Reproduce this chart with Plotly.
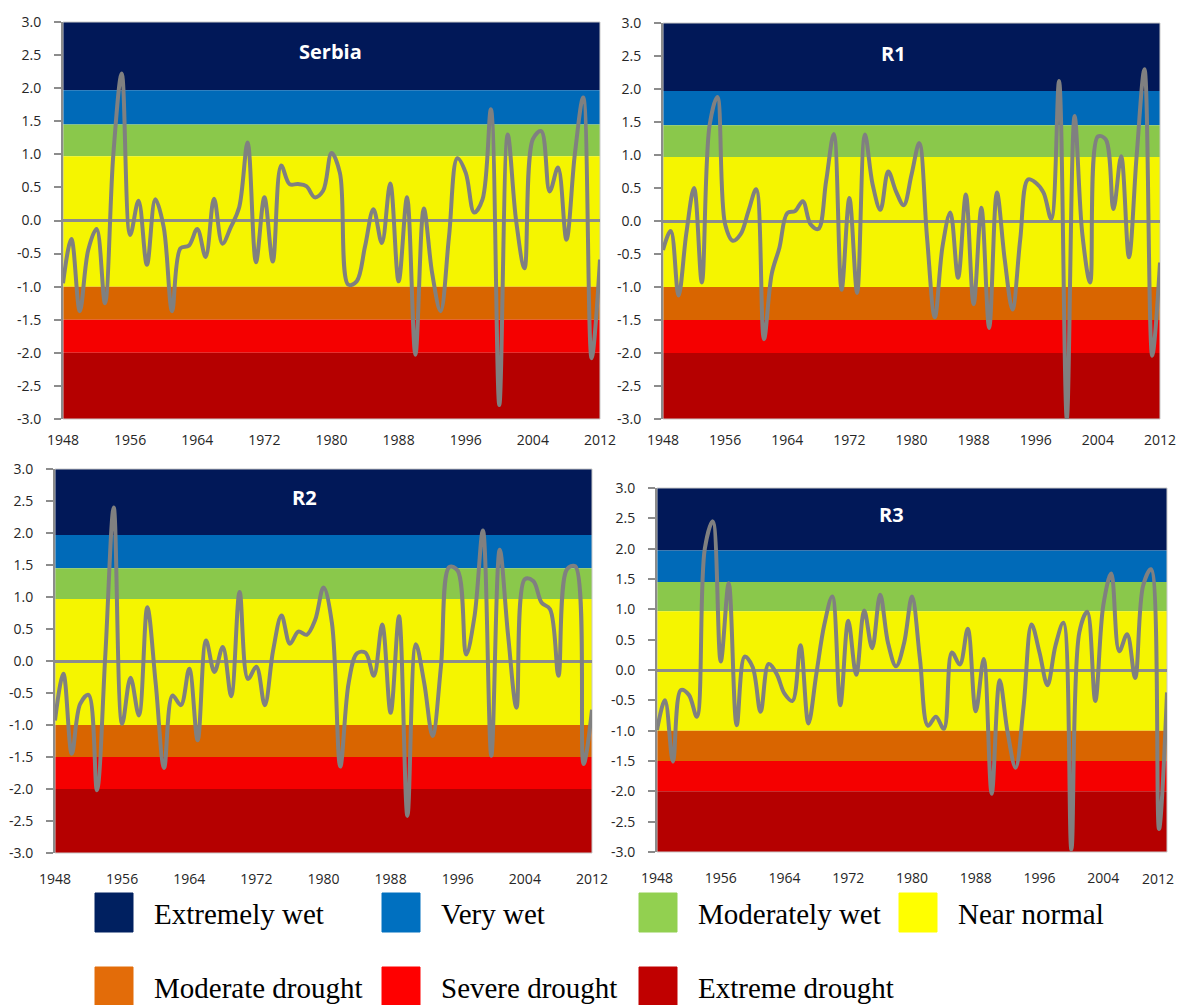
import plotly.graph_objects as go

# ---------------- data ----------------
YEARS = list(range(1948, 2013))

SERBIA = [-0.95, -0.28, -1.37, -0.45, -0.13, -1.25, 1.0, 2.22, -0.22, 0.30,
          -0.67, 0.32, -0.10, -1.37, -0.42, -0.38, -0.13, -0.55, 0.33, -0.35,
          -0.10, 0.20, 1.18, -0.63, 0.35, -0.62, 0.83, 0.55, 0.55, 0.52,
          0.35, 0.45, 1.02, 0.72, -0.97, -0.92, -0.39, 0.17, -0.34, 0.56,
          -0.92, 0.35, -2.03, 0.18, -0.80, -1.37, -0.25, 0.94, 0.72, 0.12,
          0.32, 1.68, -2.79, 1.30, 0.00, -0.72, 1.23, 1.35, 0.44, 0.80,
          -0.29, 1.00, 1.86, -2.08, -0.59]

R1 = [-0.44, -0.15, -1.13, -0.19, 0.50, -0.93, 1.45, 1.88, -0.05, -0.30,
      -0.20, 0.15, 0.48, -1.79, -0.80, -0.40, 0.12, 0.15, 0.30, -0.05,
      -0.12, 0.60, 1.32, -1.04, 0.35, -1.09, 1.31, 0.55, 0.17, 0.75,
      0.45, 0.24, 0.70, 1.18, -0.25, -1.46, -0.38, 0.13, -0.86, 0.40,
      -1.26, 0.20, -1.62, 0.43, -0.58, -1.34, -0.28, 0.63, 0.58, 0.43,
      0.03, 2.12, -3.00, 1.59, -0.20, -0.93, 1.28, 1.24, 0.18, 0.98,
      -0.55, 1.00, 2.30, -2.04, -0.63]

R2 = [-0.93, -0.20, -1.45, -0.67, -0.53, -2.02, 0.10, 2.40, -0.98, -0.26,
      -0.85, 0.84, -0.35, -1.67, -0.54, -0.69, -0.12, -1.24, 0.32, -0.17,
      0.22, -0.55, 1.08, -0.28, -0.09, -0.69, 0.17, 0.71, 0.27, 0.46,
      0.41, 0.64, 1.15, 0.60, -1.65, -0.34, 0.12, 0.13, -0.23, 0.57,
      -0.81, 0.70, -2.42, 0.26, -0.34, -1.17, -0.08, 1.47, 1.41, 0.10,
      0.70, 2.04, -1.48, 1.74, 0.40, -0.73, 1.28, 1.25, 0.91, 0.81,
      -0.23, 1.43, 1.48, -1.61, -0.76]

R3 = [-0.99, -0.50, -1.51, -0.33, -0.41, -0.77, 2.00, 2.45, 0.14, 1.43,
      -0.91, 0.22, 0.05, -0.69, 0.10, -0.06, -0.39, -0.51, 0.41, -0.88,
      -0.06, 0.75, 1.21, -0.58, 0.81, -0.08, 0.98, 0.36, 1.24, 0.44,
      0.06, 0.44, 1.21, 0.18, -0.92, -0.77, -0.97, 0.29, 0.09, 0.68,
      -0.68, 0.18, -2.04, -0.17, -1.03, -1.61, -0.60, 0.75, 0.29, -0.25,
      0.40, 0.78, -2.96, 0.62, 0.96, -0.51, 1.06, 1.59, 0.31, 0.59,
      -0.13, 1.39, 1.66, -2.62, -0.37]

PANEL_TITLES = ["Serbia", "R1", "R2", "R3"]
PANEL_SERIES = [SERBIA, R1, R2, R3]

X_TICKS = list(range(1948, 2013, 8))
Y_TICKS = [-3.0, -2.5, -2.0, -1.5, -1.0, -0.5, 0.0, 0.5, 1.0, 1.5, 2.0, 2.5, 3.0]
Y_TICK_TEXT = ["-3.0", "-2.5", "-2.0", "-1.5", "-1.0", "-0.5", "0.0",
               "0.5", "1.0", "1.5", "2.0", "2.5", "3.0"]

CLASS_NAMES = ["Extremely wet", "Very wet", "Moderately wet", "Near normal",
               "Moderate drought", "Severe drought", "Extreme drought"]
CLASS_UPPER = [3.0, 1.97, 1.45, 0.97, -1.0, -1.5, -2.0]
CLASS_LOWER = [1.97, 1.45, 0.97, -1.0, -1.5, -2.0, -3.0]

# ---------------- style ----------------
OFF = 8  # page body margin in the browser
W, H = 1184 - OFF, 1005 - OFF
BAND_COLORS = ["#011858", "#006AB8", "#8AC84B", "#F5F500", "#D96500", "#F50000", "#B50000"]
LEGEND_COLORS = ["#002060", "#0070C0", "#92D050", "#FFFF00", "#E36C09", "#FF0000", "#C00000"]
LINE_COLOR = "#808080"
AXIS_COLOR = "#8C8C8C"
TICK_FONT = dict(family="Open Sans, Liberation Sans, sans-serif", size=14, color="#262626")

# panel plot areas in page pixels: (left, right, top, bottom)
PANEL_BOX = [(63, 600, 22, 419), (663, 1160, 23, 419),
             (55, 592, 469, 853), (657, 1167, 488, 852)]
XLABEL_PAD = [8, 8, 13, 13]
TITLE_POS = [(330, 52), (893, 53), (304, 497), (892, 514)]


def px(x):
    return (x - OFF) / W


def py(y):
    return 1 - (y - OFF) / H


fig = go.Figure()
shapes = []
annotations = []
layout = {}

for i, (title, series) in enumerate(zip(PANEL_TITLES, PANEL_SERIES)):
    n = "" if i == 0 else str(i + 1)
    xa, ya = "x" + n, "y" + n
    l, r, t, b = PANEL_BOX[i]

    fig.add_trace(go.Scatter(
        x=YEARS, y=series, mode="lines", xaxis=xa, yaxis=ya,
        line=dict(color=LINE_COLOR, width=4, shape="spline", smoothing=1.0),
        showlegend=False, hoverinfo="x+y"))

    # the last panel's final year label sits at the page edge: drawn as
    # a right-aligned annotation so it stays inside the visible page
    xt = X_TICKS if i < 3 else X_TICKS[:-1]
    layout["xaxis" + n] = dict(
        domain=[px(l), px(r)], anchor=ya, range=[1948, 2012],
        tickvals=xt, ticktext=[str(v) for v in xt],
        ticks="outside", ticklen=XLABEL_PAD[i], tickcolor="rgba(0,0,0,0)",
        showgrid=False, zeroline=False, showline=False, tickfont=TICK_FONT,
        automargin=False)
    layout["yaxis" + n] = dict(
        domain=[py(b), py(t)], anchor=xa, range=[-3, 3],
        tickvals=Y_TICKS, ticktext=Y_TICK_TEXT,
        ticks="outside", ticklen=7, tickwidth=1.5, tickcolor=AXIS_COLOR,
        ticklabelstandoff=10,
        showline=True, linecolor=AXIS_COLOR, linewidth=2,
        showgrid=False, zeroline=True, zerolinecolor=AXIS_COLOR, zerolinewidth=2.5,
        tickfont=TICK_FONT, automargin=False)

    for lo, hi, col in zip(CLASS_LOWER, CLASS_UPPER, BAND_COLORS):
        shapes.append(dict(type="rect", xref=xa + " domain", yref=ya,
                           x0=0, x1=1, y0=lo, y1=hi, fillcolor=col,
                           line=dict(width=0), layer="below"))
    shapes.append(dict(type="rect", xref=xa + " domain", yref=ya + " domain",
                       x0=0, x1=1, y0=0, y1=1, line=dict(color="#C8C8C8", width=1),
                       fillcolor="rgba(0,0,0,0)", layer="below"))

    tx, ty = TITLE_POS[i]
    annotations.append(dict(text="<b>%s</b>" % title, x=px(tx), y=py(ty),
                            xref="paper", yref="paper", showarrow=False,
                            xanchor="center", yanchor="middle",
                            font=dict(family="Open Sans, sans-serif", size=20,
                                      color="white")))

# last x label of panel R3 (year X_TICKS[-1])
annotations.append(dict(text=str(X_TICKS[-1]), x=px(1176), y=py(878),
                        xref="paper", yref="paper", showarrow=False,
                        xanchor="right", yanchor="middle", font=TICK_FONT))

# ---------------- legend (swatches + labels) ----------------
LEG_SWATCH_X = [95, 382, 639, 899, 95, 382, 639]
LEG_ROW_Y = [(893, 932), (967, 1005)]
LEG_ROW = [0, 0, 0, 0, 1, 1, 1]
LEG_TEXT_Y = [914, 988]
for name, col, sx, row in zip(CLASS_NAMES, LEGEND_COLORS, LEG_SWATCH_X, LEG_ROW):
    y0, y1 = LEG_ROW_Y[row]
    shapes.append(dict(type="rect", xref="paper", yref="paper",
                       x0=px(sx), x1=px(sx + 38), y0=py(y1), y1=py(y0),
                       fillcolor=col, line=dict(color=col, width=1), layer="above"))
    annotations.append(dict(text=name, x=px(sx + 57), y=py(LEG_TEXT_Y[row]),
                            xref="paper", yref="paper", showarrow=False,
                            xanchor="left", yanchor="middle",
                            font=dict(family="Liberation Serif, Times New Roman, serif",
                                      size=29, color="#000000")))

fig.update_layout(
    width=W, height=H, margin=dict(l=0, r=0, t=0, b=0, autoexpand=False),
    paper_bgcolor="white", plot_bgcolor="white",
    shapes=shapes, annotations=annotations, showlegend=False,
    **layout)

fig.write_html("out.html")
